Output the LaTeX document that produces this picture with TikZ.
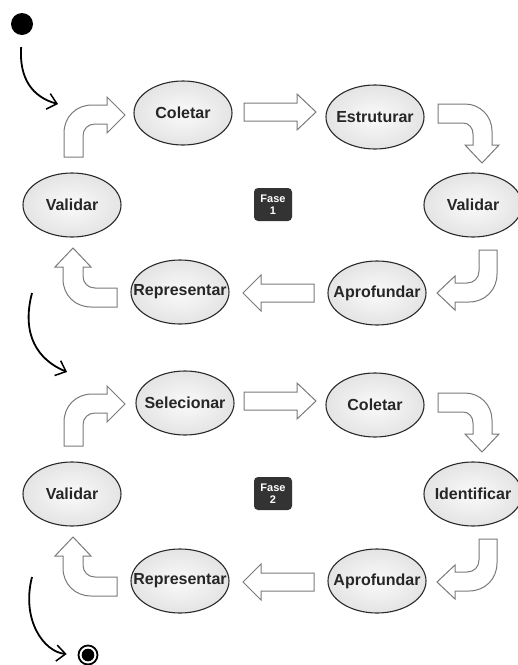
\documentclass[tikz,border=0pt]{standalone}
\usepackage{fontspec}
\setmainfont{Liberation Sans}
\usetikzlibrary{shapes.geometric,arrows.meta}
\definecolor{edgec}{HTML}{2A2A2A}
\definecolor{fillin}{HTML}{FAFAFA}
\definecolor{fillout}{HTML}{E4E4E4}
\definecolor{barrowc}{HTML}{7A7A7A}
\definecolor{badgec}{HTML}{333333}
\begin{document}
\begin{tikzpicture}[x=1pt,y=-1pt,
  act/.style={ellipse, draw=edgec, line width=1.1pt, inner color=fillin, outer color=fillout,
    minimum width=98pt, minimum height=64pt, inner sep=0pt,
    font=\fontsize{16}{18}\selectfont\bfseries, text=black!85},
  blockarrow/.style={draw=barrowc, line width=1pt, fill=white, line join=miter},
  flow/.style={draw=black, line width=1.8pt, -{Straight Barb[length=9pt,width=16pt,line width=1.5pt]}},
  badge/.style={fill=badgec, rounded corners=4pt, minimum width=38pt, minimum height=33pt,
    inner sep=0pt, text=white, align=center, font=\fontsize{11}{12}\selectfont\bfseries}
]
\useasboundingbox (0,0) rectangle (518,665);
\fill[white] (0,0) rectangle (518,665);

% ---------- Phase 1 ----------
\node[act] (c1) at (183,113) {\makebox[0pt]{Coletar}};
\node[act] (e1) at (375,117) {\makebox[0pt]{Estruturar}};
\node[act] (vr1) at (473,205) {\makebox[0pt]{Validar}};
\node[act] (a1) at (377,293) {\makebox[0pt]{Aprofundar}};
\node[act] (r1) at (180,292) {\makebox[0pt]{Representar}};
\node[act] (vl1) at (72,205) {\makebox[0pt]{Validar}};
\node[badge] (f1) at (273,204.5) {Fase\\1};

% ---------- Phase 2 ----------
\node[act] (s2) at (185,403) {\makebox[0pt]{Selecionar}};
\node[act] (c2) at (375,405) {\makebox[0pt]{Coletar}};
\node[act] (i2) at (473,494) {\makebox[0pt]{Identificar}};
\node[act] (a2) at (377,581) {\makebox[0pt]{Aprofundar}};
\node[act] (r2) at (180,581) {\makebox[0pt]{Representar}};
\node[act] (vl2) at (72,494) {\makebox[0pt]{Validar}};
\node[badge] (f2) at (273,493.5) {Fase\\2};

% ---------- block arrows (both phases) ----------
\foreach \dy in {0,-289}{
\begin{scope}[yshift=\dy pt]
\draw[blockarrow] (64,157) -- (64,133) .. controls (64,117) and (76,105) .. (92,105) -- (107,105) -- (107,97) -- (125,115) -- (107,133) -- (107,124) -- (95,124) .. controls (88,124) and (83,129) .. (83,136) -- (83,157) -- cycle;
\draw[blockarrow] (244,103) -- (297,103) -- (297,94) -- (316,112) -- (297,130) -- (297,121) -- (244,121) -- cycle;
\draw[blockarrow] (438,104) -- (465,104) .. controls (480,104) and (492,116) .. (492,131) -- (492,145) -- (499,145) -- (482,163) -- (465,145) -- (473,145) -- (473,134) .. controls (473,128) and (469,123) .. (463,123) -- (438,123) -- cycle;
\draw[blockarrow] (479,250) -- (497,250) -- (497,274) .. controls (497,290) and (485,302) .. (469,302) -- (455,302) -- (455,310) -- (437,293) -- (455,276) -- (455,283) -- (467,283) .. controls (474,283) and (479,278) .. (479,271) -- cycle;
\draw[blockarrow] (314,284) -- (261,284) -- (261,275) -- (243,293) -- (261,311) -- (261,302) -- (314,302) -- cycle;
\draw[blockarrow] (117,288) -- (95,288) .. controls (88,288) and (83,283) .. (83,276) -- (83,267) -- (91,267) -- (73,248) -- (55,267) -- (63,267) -- (63,279) .. controls (63,295) and (75,307) .. (91,307) -- (117,307) -- cycle;
\end{scope}}

% ---------- start / end and flow arrows ----------
\node[circle, fill=black, minimum size=22pt, inner sep=0pt] (start) at (22,24) {};
\node[circle, draw=black, line width=1.8pt, minimum size=19pt, inner sep=0pt] (end) at (88,655) {};
\fill[black] (end.center) circle (6.3pt);

\coordinate (in1) at (58,104);
\coordinate (out1) at (32,293);
\coordinate (in2) at (67,372);
\coordinate (out2) at (32,577);

\draw[flow, shorten <=12pt] (start.south) .. controls (19,78) and (32,97) .. (in1);
\draw[flow] (out1) .. controls (21,335) and (38,360) .. (in2);
\draw[flow, shorten >=11pt] (out2) .. controls (21,620) and (44,652) .. (end.west);
\end{tikzpicture}
\end{document}
